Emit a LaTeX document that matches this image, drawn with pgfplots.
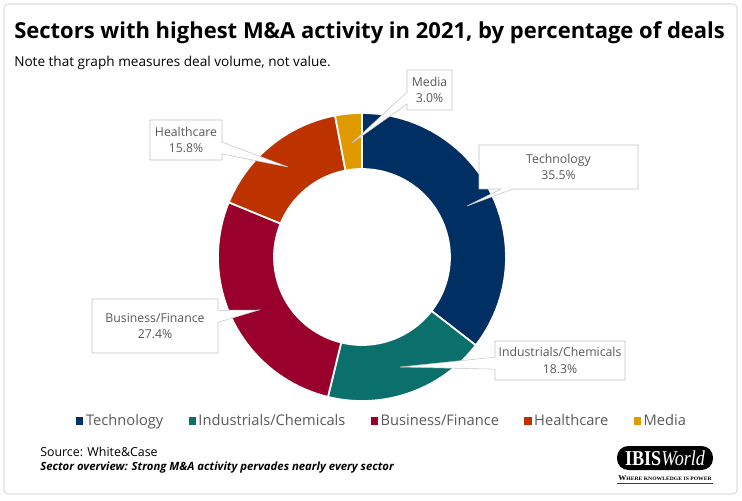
\documentclass[border=0pt]{standalone}
\usepackage{pgfplots}
\pgfplotsset{compat=1.18}
\usetikzlibrary{shapes.callouts}
\usepackage{fontspec}
\setmainfont{Open Sans}
\newfontfamily\seriffont{Liberation Serif}
\definecolor{ctech}{HTML}{003063}
\definecolor{cind}{HTML}{0B706C}
\definecolor{cbus}{HTML}{99002C}
\definecolor{chea}{HTML}{BD3300}
\definecolor{cmed}{HTML}{E09A00}
\definecolor{lbl}{HTML}{595959}
\definecolor{bord}{HTML}{C4C4C4}

% data (percent of deals)
\def\vT{35.5}\def\vI{18.3}\def\vB{27.4}\def\vH{15.8}\def\vM{3.0}
\pgfmathsetmacro\aA{90}
\pgfmathsetmacro\aB{\aA-3.6*\vT}
\pgfmathsetmacro\aC{\aB-3.6*\vI}
\pgfmathsetmacro\aD{\aC-3.6*\vB}
\pgfmathsetmacro\aE{\aD-3.6*\vH}
\pgfmathsetmacro\aF{\aE-3.6*\vM}

\newcommand\ring[3]{%
\addplot[fill=#1, draw=white, line width=1.3pt, domain=0:81, samples=82]
({362+ifthenelse(x<40.5,144,88)*cos(ifthenelse(x<40.5,(#2)+((#3)-(#2))*x/40,(#3)-((#3)-(#2))*(x-41)/40))},
 {243+ifthenelse(x<40.5,144,88)*sin(ifthenelse(x<40.5,(#2)+((#3)-(#2))*x/40,(#3)-((#3)-(#2))*(x-41)/40))}) -- cycle;}

\tikzset{lab/.style={rectangle callout, draw=bord, fill=white, text=lbl, align=center,
  inner sep=0pt, callout pointer width=9pt, font=\fontsize{9.2}{12.5}\selectfont}}

\begin{document}
\begin{tikzpicture}
\begin{axis}[hide axis, scale only axis, width=556.5pt, height=375pt,
  xmin=0, xmax=742, ymin=0, ymax=500, clip=false,
  legend columns=5,
  legend image code/.code={\fill[#1,draw=none] (0pt,-2.7pt) rectangle (5.4pt,2.7pt);},
  legend style={at={(axis cs:72,79)}, anchor=west, draw=none, fill=none,
    font=\fontsize{11}{13}\selectfont, text=lbl,
    /tikz/every even column/.append style={column sep=17pt},
    /tikz/every odd column/.append style={column sep=0pt}},
]
\path (axis cs:0,0) rectangle (axis cs:742,500);
\draw[bord, rounded corners=3pt] (axis cs:4,6) rectangle (axis cs:737,496);

\ring{ctech}{\aA}{\aB}\addlegendentry{Technology}
\ring{cind}{\aB}{\aC}\addlegendentry{Industrials/Chemicals}
\ring{cbus}{\aC}{\aD}\addlegendentry{Business/Finance}
\ring{chea}{\aD}{\aE}\addlegendentry{Healthcare}
\ring{cmed}{\aE}{\aF}\addlegendentry{Media}

\node[lab, minimum width=33.75pt, minimum height=30pt, callout absolute pointer={(axis cs:352,357)}] at (axis cs:429.5,410) {Media\\3.0\%};
\node[lab, minimum width=54pt, minimum height=30pt, callout absolute pointer={(axis cs:288,333)}] at (axis cs:186,360) {Healthcare\\15.8\%};
\node[lab, minimum width=119.25pt, minimum height=33pt, callout absolute pointer={(axis cs:467,294)}] at (axis cs:558.5,333) {Technology\\35.5\%};
\node[lab, minimum width=94.5pt, minimum height=40.5pt, callout absolute pointer={(axis cs:259,190)}] at (axis cs:155,174) {Business/Finance\\27.4\%};
\node[lab, minimum width=97.5pt, minimum height=29.25pt, callout absolute pointer={(axis cs:400,133)}] at (axis cs:560,139.5) {Industrials/Chemicals\\18.3\%};

\node[anchor=west, inner sep=0pt, font=\fontsize{16.5}{19}\selectfont\bfseries] at (axis cs:14,467) {Sectors with highest M\&A activity in 2021, by percentage of deals};
\node[anchor=west, inner sep=0pt, font=\fontsize{10.2}{12}\selectfont] at (axis cs:14,437) {Note that graph measures deal volume, not value.};
\node[anchor=west, inner sep=0pt, font=\fontsize{9.3}{11}\selectfont] at (axis cs:40,48) {Source: White\&Case};
\node[anchor=west, inner sep=0pt, font=\fontsize{8.5}{10}\selectfont\bfseries\itshape] at (axis cs:40,32) {Sector overview: Strong M\&A activity pervades nearly every sector};

\fill[black, rounded corners=8.5pt] (axis cs:617,30) rectangle (axis cs:713,54);
\node[inner sep=0pt, text=white] at (axis cs:665,42) {\resizebox{60pt}{11pt}{\seriffont\textbf{IBIS}\textit{World}}};
\node[inner sep=0pt] at (axis cs:665,22) {\resizebox{70pt}{3.6pt}{\seriffont\bfseries W{\fontsize{7}{8}\selectfont HERE KNOWLEDGE IS POWER}}};
\draw[red!80!black, line width=0.5pt] (axis cs:617,17) -- (axis cs:713,17);
\end{axis}
\end{tikzpicture}
\end{document}
